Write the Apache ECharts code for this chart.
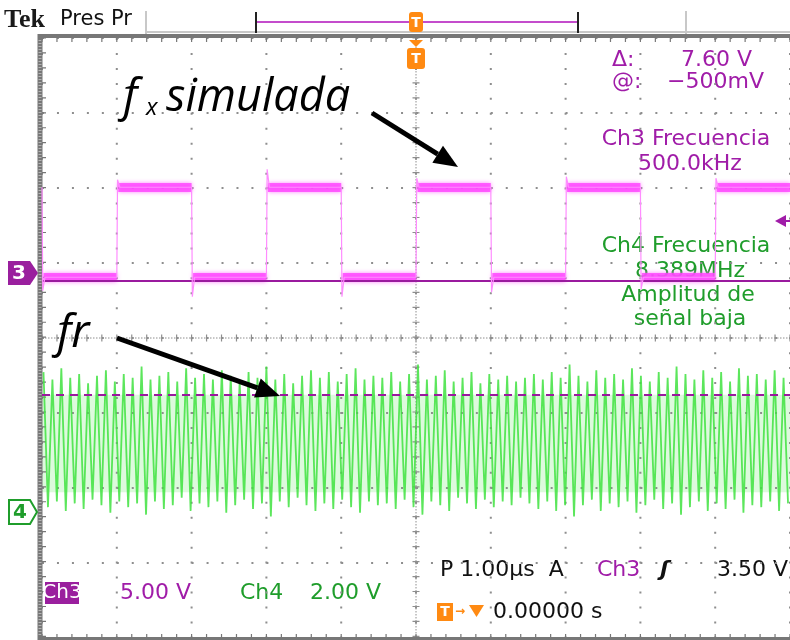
<!DOCTYPE html>
<html>
<head>
<meta charset="utf-8">
<script src="https://cdn.jsdelivr.net/npm/echarts@6/dist/echarts.min.js"></script>
<style>
html,body{margin:0;padding:0;background:#fff;}
#scope{width:790px;height:640px;}
</style>
</head>
<body>
<div id="scope"></div>
<script>
// horizontal : 1.00us/div, 10 div, trigger in the middle
var timeMin = -5, timeMax = 5;
var divMin = -4, divMax = 4;

// Ch3 : 5.00 V/div, square wave 500 kHz
var ch3VoltsDiv = 5, ch3Pos = 0.87;
var ch3Before = 5.7;                                         // level left of the screen
var ch3Edges  = [-5, -4, -3, -2, -1, 0, 1, 2, 3, 4];         // us
var ch3Levels = [-0.3, 5.7, -0.3, 5.7, -0.3, 5.7, -0.3, 5.7, -0.3, 5.7];
var ch3Spikes = [-1.2, 6.2, -1.6, 6.9, -1.6, 6.3, -1.3, 6.4, -1.1, 6.3];
var cursorVolts = [-0.5, -8.1];

// Ch4 : 2.00 V/div, 8.389 MHz
var ch4VoltsDiv = 2, ch4Pos = -2.33;
var ch4Freq = 8.389;   // MHz
var ch4Phase = 0.02;   // us
var ch4Band = [0.55, 3.15];  // light persistence band (V)
var ch4Peaks = [
    3.75, 3.55, 3.85, 3.60, 3.70, 3.45, 3.65, 3.80, 3.50, 3.70,
    3.60, 3.90, 3.55, 3.65, 3.75, 3.50, 3.85, 3.60, 3.70, 3.55,
    3.80, 3.65, 3.50, 3.75, 3.60, 3.90, 3.55, 3.70, 3.45, 3.65,
    3.80, 3.60, 3.75, 3.50, 3.70, 3.85, 3.55, 3.65, 3.60, 3.75,
    3.50, 3.70, 3.95, 3.55, 3.65, 3.80, 3.50, 3.60, 3.75, 3.45,
    3.70, 3.55, 3.65, 3.50, 3.60, 3.70, 3.55, 3.75, 3.60, 3.95,
    3.65, 3.50, 3.80, 3.60, 3.70, 3.55, 3.85, 3.65, 3.50, 3.75,
    3.60, 3.90, 3.70, 3.55, 3.80, 3.60, 3.75, 3.50, 3.85, 3.65,
    3.70, 3.55, 3.80, 3.60
];
var ch4Troughs = [
    0.15, 0.30, 0.05, 0.25, 0.10, 0.35, 0.20, 0.00, 0.30, 0.15,
    0.25, -0.05, 0.30, 0.10, 0.20, 0.40, 0.05, 0.25, 0.15, 0.30,
    0.00, 0.20, 0.35, 0.10, 0.25, -0.10, 0.30, 0.15, 0.40, 0.20,
    0.05, 0.25, 0.10, 0.35, 0.15, 0.00, 0.30, 0.20, 0.25, 0.10,
    0.35, 0.15, -0.05, 0.30, 0.20, 0.05, 0.40, 0.25, 0.10, 0.35,
    0.15, 0.30, 0.20, 0.40, 0.25, 0.10, 0.30, 0.05, 0.20, -0.10,
    0.20, 0.35, 0.05, 0.25, 0.15, 0.30, 0.00, 0.20, 0.35, 0.10,
    0.25, -0.05, 0.15, 0.30, 0.05, 0.25, 0.10, 0.35, 0.00, 0.20,
    0.15, 0.30, 0.05, 0.25
];

var magenta = '#a01ca8';
var green = '#1f9d2b';
var orange = '#ff8a12';
var mono = '"DejaVu Sans"';

function ch3Div(v) { return v / ch3VoltsDiv + ch3Pos; }
function ch4Div(v) { return v / ch4VoltsDiv + ch4Pos; }

// Ch3 trace + plateaus
var ch3Trace = [[timeMin, ch3Div(ch3Before)]];
var ch3Plateaus = [];
for (var i = 0; i < ch3Edges.length; i++) {
    var e = ch3Edges[i];
    var prev = i == 0 ? ch3Before : ch3Levels[i - 1];
    var end = i < ch3Edges.length - 1 ? ch3Edges[i + 1] : timeMax;
    ch3Trace.push([e, ch3Div(prev)]);
    ch3Trace.push([e + 0.01, ch3Div(ch3Spikes[i])]);
    ch3Trace.push([e + 0.04, ch3Div(ch3Levels[i])]);
    ch3Trace.push([end, ch3Div(ch3Levels[i])]);
    ch3Plateaus.push({coords: [[e + 0.02, ch3Div(ch3Levels[i])], [end, ch3Div(ch3Levels[i])]]});
}

// Ch4 trace
var ch4Trace = [];
var period = 1 / ch4Freq;
for (var k = 0; k < ch4Peaks.length; k++) {
    var t = timeMin + ch4Phase + k * period;
    ch4Trace.push([t, ch4Div(ch4Peaks[k])]);
    ch4Trace.push([t + period / 2, ch4Div(ch4Troughs[k])]);
}

// graticule: dotted divisions, centre cross with ticks, ruler borders
function renderGraticule(params, api) {
    var tl = api.coord([timeMin, divMax]);
    var br = api.coord([timeMax, divMin]);
    var c = api.coord([0, 0]);
    var step = (br[0] - tl[0]) / ((timeMax - timeMin) * 5);
    var dot = '#8e8e8e';
    var kids = [];
    function ln(x1, y1, x2, y2, st) {
        kids.push({type: 'line', shape: {x1: x1, y1: y1, x2: x2, y2: y2}, style: st});
    }
    for (var tx = timeMin; tx <= timeMax; tx++) {
        var px = api.coord([tx, 0])[0];
        ln(px, tl[1], px, br[1], {stroke: dot, lineWidth: 2, lineDash: [2, step - 2]});
    }
    for (var dy = divMin; dy <= divMax; dy++) {
        var py = api.coord([0, dy])[1];
        ln(tl[0], py, br[0], py, {stroke: dot, lineWidth: 2, lineDash: [2, step - 2]});
    }
    // centre lines
    ln(c[0], tl[1], c[0], br[1], {stroke: dot, lineWidth: 1, lineDash: [1.5, 1.5]});
    ln(tl[0], c[1], br[0], c[1], {stroke: dot, lineWidth: 1, lineDash: [1.5, 1.5]});
    ln(c[0], tl[1] - 0.6, c[0], br[1], {stroke: dot, lineWidth: 7, lineDash: [1.2, step - 1.2]});
    ln(tl[0] - 0.6, c[1], br[0], c[1], {stroke: dot, lineWidth: 7, lineDash: [1.2, step - 1.2]});
    // borders
    var bc = '#777';
    ln(tl[0] - 2, tl[1] - 4, tl[0] - 2, br[1] + 4, {stroke: bc, lineWidth: 5});
    ln(tl[0] - 2, tl[1] - 4, tl[0] - 2, br[1] + 4, {stroke: '#b5b5b5', lineWidth: 3, lineDash: [1, 2]});
    ln(tl[0] + 2, tl[1] - 0.6, tl[0] + 2, br[1], {stroke: bc, lineWidth: 4, lineDash: [1.2, step - 1.2]});
    ln(tl[0] - 4, tl[1] - 2, br[0] + 4, tl[1] - 2, {stroke: bc, lineWidth: 4});
    ln(tl[0] - 0.6, tl[1] + 2, br[0], tl[1] + 2, {stroke: bc, lineWidth: 4, lineDash: [1.2, step - 1.2]});
    ln(tl[0] - 4, br[1] + 1, br[0] + 4, br[1] + 1, {stroke: bc, lineWidth: 4});
    ln(tl[0] - 0.6, br[1] - 2, br[0], br[1] - 2, {stroke: bc, lineWidth: 4, lineDash: [1.2, step - 1.2]});
    return {type: 'group', children: kids};
}

function hiddenAxis(min, max) {
    return {
        type: 'value', min: min, max: max, interval: 1,
        axisLine: {show: false}, axisTick: {show: false},
        axisLabel: {show: false}, splitLine: {show: false}
    };
}

// arrow shape helper (annotation arrows)
function arrow(x1, y1, x2, y2) {
    var dx = x2 - x1, dy = y2 - y1;
    var len = Math.sqrt(dx * dx + dy * dy);
    var ux = dx / len, uy = dy / len;
    var bx = x2 - 24 * ux, by = y2 - 24 * uy;
    var px = -uy * 10, py = ux * 10;
    return [
        {type: 'line', z: 100, shape: {x1: x1, y1: y1, x2: bx, y2: by}, style: {stroke: '#000', lineWidth: 5}},
        {type: 'polygon', z: 100, shape: {points: [[x2, y2], [bx + px, by + py], [bx - px, by - py]]}, style: {fill: '#000'}}
    ];
}

function txt(x, y, s, font, fill, align, z) {
    return {type: 'text', x: x, y: y, z: z || 1, style: {text: s, font: font, fill: fill,
        align: align || 'left', verticalAlign: 'middle', textAlign: align || 'left', textVerticalAlign: 'middle'}};
}

function badge(cx, top, w, h) {
    return [
        {type: 'rect', z: 50, shape: {x: cx - w / 2, y: top, width: w, height: h, r: 3}, style: {fill: orange}},
        txt(cx, top + h / 2 + 1, 'T', 'bold 14px ' + mono, '#fff', 'center', 51)
    ];
}

var graphics = [
    txt(4, 20, 'Tek', 'bold 26px "Liberation Serif"', '#1a1a1a'),
    txt(60, 20, 'Pres Pr', '21px ' + mono, '#111'),
    {type: 'line', shape: {x1: 146, y1: 11, x2: 146, y2: 34}, style: {stroke: '#c8c8c8', lineWidth: 2}},
    {type: 'line', shape: {x1: 686, y1: 11, x2: 686, y2: 34}, style: {stroke: '#c8c8c8', lineWidth: 2}},
    {type: 'line', shape: {x1: 146, y1: 32, x2: 790, y2: 32}, style: {stroke: '#c8c8c8', lineWidth: 2}},
    {type: 'line', shape: {x1: 256, y1: 22, x2: 578, y2: 22}, style: {stroke: '#c44ccc', lineWidth: 2}},
    {type: 'line', shape: {x1: 256, y1: 12, x2: 256, y2: 33}, style: {stroke: '#222', lineWidth: 2}},
    {type: 'line', shape: {x1: 578, y1: 12, x2: 578, y2: 33}, style: {stroke: '#222', lineWidth: 2}},
    {type: 'polygon', z: 50, shape: {points: [[409, 40], [423, 40], [416, 47]]}, style: {fill: orange}},

    txt(612, 60, 'Δ:', '22px ' + mono, magenta),
    txt(752, 60, '7.60 V', '22px ' + mono, magenta, 'right'),
    txt(612, 82, '@:', '22px ' + mono, magenta),
    txt(764, 82, '\u2212500mV', '22px ' + mono, magenta, 'right'),
    txt(686, 139, 'Ch3 Frecuencia', '22px ' + mono, magenta, 'center'),
    txt(690, 164, '500.0kHz', '22px ' + mono, magenta, 'center'),
    txt(686, 246, 'Ch4 Frecuencia', '22px ' + mono, green, 'center'),
    txt(690, 271, '8.389MHz', '22px ' + mono, green, 'center'),
    txt(688, 295, 'Amplitud de', '22px ' + mono, green, 'center'),
    txt(690, 319, 'señal baja', '22px ' + mono, green, 'center'),
    {type: 'polygon', z: 50, shape: {points: [[775, 221], [786, 215], [786, 227]]}, style: {fill: magenta}},
    {type: 'line', z: 50, shape: {x1: 785, y1: 221, x2: 790, y2: 221}, style: {stroke: magenta, lineWidth: 2}},

    // channel ground markers
    {type: 'polygon', z: 50, shape: {points: [[8, 261], [30, 261], [38, 273], [30, 285], [8, 285]]}, style: {fill: '#9a1f9e'}},
    txt(19, 274, '3', 'bold 20px ' + mono, '#fff', 'center', 51),
    {type: 'polygon', z: 50, shape: {points: [[9, 500], [30, 500], [37, 512], [30, 524], [9, 524]]}, style: {fill: '#fff', stroke: green, lineWidth: 2}},
    txt(20, 513, '4', 'bold 20px ' + mono, green, 'center', 51),

    // bottom readout
    {type: 'rect', z: 50, shape: {x: 45, y: 582, width: 34, height: 22}, style: {fill: '#9a1f9e'}},
    txt(62, 593, 'Ch3', '20px ' + mono, '#fff', 'center', 51),
    txt(120, 593, '5.00 V', '22px ' + mono, magenta),
    txt(240, 593, 'Ch4', '22px ' + mono, green),
    txt(310, 593, '2.00 V', '22px ' + mono, green),
    txt(440, 570, 'P 1.00µs  A', '22px ' + mono, '#111'),
    txt(597, 570, 'Ch3', '22px ' + mono, magenta),
    txt(660, 570, 'ʃ', 'bold italic 22px ' + mono, '#111'),
    txt(788, 570, '3.50 V', '22px ' + mono, '#111', 'right'),
    {type: 'rect', z: 50, shape: {x: 437, y: 603, width: 16, height: 18}, style: {fill: orange}},
    txt(445, 612, 'T', 'bold 14px ' + mono, '#fff', 'center', 51),
    txt(455, 612, '\u2192', 'bold 12px ' + mono, orange),
    {type: 'polygon', z: 50, shape: {points: [[469, 605], [484, 605], [476.5, 617]]}, style: {fill: orange}},
    txt(493, 612, '0.00000 s', '22px ' + mono, '#111'),

    // annotations
    txt(123, 98, 'f', 'italic 46px "Open Sans"', '#000', 'left', 100),
    txt(146, 108, 'x', 'italic 24px "Open Sans"', '#000', 'left', 100),
    txt(166, 98, 'simulada', 'italic 45px "Open Sans"', '#000', 'left', 100),
    txt(57, 334, 'fr', 'italic 46px "Open Sans"', '#000', 'left', 100)
];
graphics = graphics.concat(badge(416, 12, 14, 20), badge(416, 48, 18, 21));
graphics = graphics.concat(arrow(372, 113, 458, 167), arrow(117, 338, 280, 396));

var myChart = echarts.init(document.getElementById('scope'));
var option = {
    backgroundColor: '#fff',
    animation: false,
    grid: {left: 42, top: 38, width: 750, height: 600, show: false},
    xAxis: hiddenAxis(timeMin, timeMax),
    yAxis: hiddenAxis(divMin, divMax),
    graphic: graphics,
    series: [
        {
            name: 'graticule',
            type: 'custom',
            renderItem: renderGraticule,
            data: [[0, 0]],
            silent: true,
            z: 1
        },
        {
            name: 'Ch4',
            type: 'line',
            data: ch4Trace,
            showSymbol: false,
            silent: true,
            z: 3,
            lineStyle: {color: '#3fe23f', width: 1.8, opacity: 0.85},
            markArea: {
                silent: true,
                itemStyle: {color: 'rgba(120,235,120,0.25)'},
                data: [[{yAxis: ch4Div(ch4Band[0])}, {yAxis: ch4Div(ch4Band[1])}]]
            }
        },
        {
            name: 'Ch3 fuzz',
            type: 'lines',
            coordinateSystem: 'cartesian2d',
            data: ch3Plateaus,
            silent: true,
            z: 4,
            lineStyle: {color: '#ff44ff', width: 9, opacity: 0.8, shadowBlur: 4, shadowColor: '#ff66ff'}
        },
        {
            name: 'Ch3',
            type: 'line',
            data: ch3Trace,
            showSymbol: false,
            silent: true,
            z: 5,
            lineStyle: {color: '#ff8cff', width: 1.2},
            markLine: {
                silent: true,
                symbol: 'none',
                label: {show: false},
                data: [
                    {yAxis: ch3Div(cursorVolts[0]), lineStyle: {type: 'solid'}},
                    {yAxis: ch3Div(cursorVolts[1]), lineStyle: {type: [8, 6]}}
                ],
                lineStyle: {color: '#9a1a9e', width: 2}
            }
        }
    ]
};
myChart.setOption(option);
</script>
</body>
</html>
